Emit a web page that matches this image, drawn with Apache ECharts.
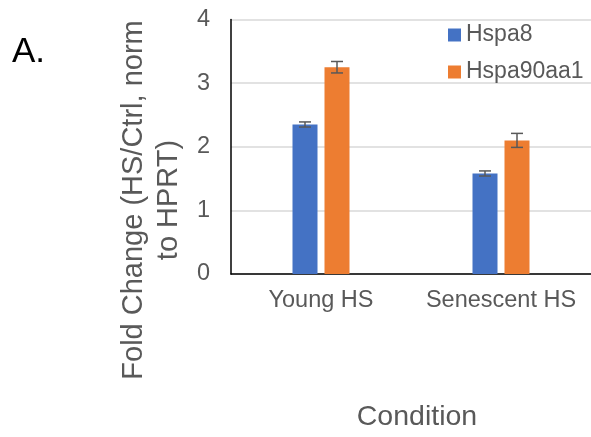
<!DOCTYPE html>
<html>
<head>
<meta charset="utf-8">
<script src="https://cdn.jsdelivr.net/npm/echarts@6/dist/echarts.min.js"></script>
<style>html,body{margin:0;padding:0;background:#fff;}#c{width:591px;height:437px;}</style>
</head>
<body>
<div id="c"></div>
<script>
const categories = ['Young HS', 'Senescent HS'];
const seriesNames = ['Hspa8', 'Hspa90aa1'];
const hspa8 = [2.35, 1.58];
const hspa8Err = [0.04, 0.04];
const hspa90 = [3.25, 2.10];
const hspa90Err = [0.09, 0.11];
const yTicks = [0, 1, 2, 3, 4];

const FONT = '"Liberation Sans", Arial, sans-serif';
const GRAY = '#595959';
const BAR_W = 25;
const BAR_GAP = 7;
const colors = ['#4472C4', '#ED7D31'];

function errSeries(vals, errs, idx) {
  const offset = (idx === 0 ? -1 : 1) * (BAR_W + BAR_GAP) / 2;
  return {
    type: 'custom',
    name: seriesNames[idx] + ' err',
    data: vals.map((v, i) => [i, v - errs[i], v + errs[i]]),
    z: 10,
    silent: true,
    renderItem: function (params, api) {
      const lo = api.coord([api.value(0), api.value(1)]);
      const hi = api.coord([api.value(0), api.value(2)]);
      const x = lo[0] + offset;
      const cap = 6;
      const st = { stroke: GRAY, lineWidth: 1.5 };
      return {
        type: 'group',
        children: [
          { type: 'line', shape: { x1: x, y1: lo[1], x2: x, y2: hi[1] }, style: st },
          { type: 'line', shape: { x1: x - cap, y1: lo[1], x2: x + cap, y2: lo[1] }, style: st },
          { type: 'line', shape: { x1: x - cap, y1: hi[1], x2: x + cap, y2: hi[1] }, style: st }
        ]
      };
    }
  };
}

const chart = echarts.init(document.getElementById('c'));
chart.setOption({
  animation: false,
  textStyle: { fontFamily: FONT },
  grid: { left: 231, right: 0, top: 19.5, bottom: 162, containLabel: false },
  legend: {
    data: seriesNames,
    orient: 'vertical',
    left: 443,
    top: 17,
    icon: 'rect',
    itemWidth: 13,
    itemHeight: 13,
    itemGap: 11,
    textStyle: { fontSize: 23, color: GRAY, fontFamily: FONT, lineHeight: 26 }
  },
  xAxis: {
    type: 'category',
    data: categories,
    axisLine: { lineStyle: { color: '#000', width: 1.5 } },
    axisTick: { show: false },
    axisLabel: { interval: 0, hideOverlap: false, fontSize: 23.5, color: GRAY, margin: 15, fontFamily: FONT },
    name: 'Condition',
    nameLocation: 'middle',
    nameGap: 129,
    nameTextStyle: { fontSize: 28.5, color: GRAY, fontFamily: FONT, padding: [0, 0, 0, 12] }
  },
  yAxis: {
    type: 'value',
    min: yTicks[0],
    max: yTicks[yTicks.length - 1],
    interval: 1,
    axisLine: { show: true, lineStyle: { color: '#000', width: 1.5 } },
    axisTick: { show: false },
    axisLabel: { fontSize: 23.5, color: GRAY, margin: 21, fontFamily: FONT },
    splitLine: { lineStyle: { color: '#d9d9d9', width: 1.5 } }
  },
  graphic: [
    {
      type: 'text', left: 12, top: 35,
      style: { text: 'A.', font: '35px "Liberation Sans", Arial, sans-serif', fill: '#000' }
    },
    {
      type: 'text', x: 151, y: 200, rotation: Math.PI / 2,
      style: {
        text: 'Fold Change (HS/Ctrl, norm\nto HPRT)',
        font: '29px "Liberation Sans", Arial, sans-serif',
        fill: GRAY, align: 'center', verticalAlign: 'middle', lineHeight: 35
      }
    }
  ],
  series: [
    { type: 'bar', name: seriesNames[0], data: hspa8, barWidth: BAR_W, barGap: (BAR_GAP / BAR_W * 100) + '%', itemStyle: { color: colors[0] } },
    { type: 'bar', name: seriesNames[1], data: hspa90, barWidth: BAR_W, barGap: (BAR_GAP / BAR_W * 100) + '%', itemStyle: { color: colors[1] } },
    errSeries(hspa8, hspa8Err, 0),
    errSeries(hspa90, hspa90Err, 1)
  ]
});
</script>
</body>
</html>
